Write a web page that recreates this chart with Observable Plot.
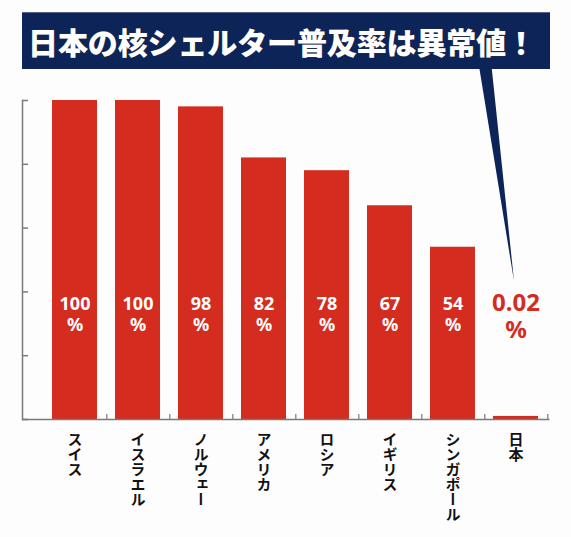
<!DOCTYPE html>
<html>
<head>
<meta charset="utf-8">
<script src="https://cdn.jsdelivr.net/npm/d3@7"></script>
<script src="https://cdn.jsdelivr.net/npm/@observablehq/plot@0.6"></script>
<style>
  body { margin: 0; background: #fdfdfd; }
  text.vlabel { writing-mode: vertical-rl; }
</style>
</head>
<body>
<div id="chart"></div>
<script>
const titleText = "日本の核シェルター普及率は異常値！";
const countries = ["スイス", "イスラエル", "ノルウェー", "アメリカ", "ロシア", "イギリス", "シンガポール", "日本"];
const rates = [100, 100, 98, 82, 78, 67, 54, 0.02];
const rateLabels = ["100", "100", "98", "82", "78", "67", "54", "0.02"];
const yTicks = [0, 20, 40, 60, 80, 100];
const highlight = "日本";

const data = countries.map((c, i) => ({country: c, rate: rates[i], label: rateLabels[i]}));
const others = data.filter(d => d.country !== highlight);
const hl = data.filter(d => d.country === highlight);

const W = 571, H = 537;
const mTop = 100, mBottom = 118, mLeft = 22, mRight = 21.5;
const xRange = [40.5, 549.5];
const step = (xRange[1] - xRange[0]) / countries.length;
const frameW = W - mLeft - mRight;
const frameH = H - mTop - mBottom;

const red = "#d42c1f";
const navy = "#0c2458";
const axisGray = "#7a7a7a";

const svg = Plot.plot({
  width: W,
  height: H,
  marginTop: mTop,
  marginBottom: mBottom,
  marginLeft: mLeft,
  marginRight: mRight,
  style: {background: "#fdfdfd", fontFamily: "'Noto Sans CJK JP', 'Noto Sans', sans-serif"},
  x: {domain: countries, range: xRange, paddingInner: 0.29, paddingOuter: 0.145, axis: null},
  y: {domain: [0, 100], axis: null},
  marks: [
    Plot.barY(others, {x: "country", y: "rate", fill: red}),
    Plot.barY(hl, {x: "country", y: "rate", fill: red, insetTop: -3}),
    Plot.ruleY([0], {stroke: axisGray, strokeWidth: 1.5}),
    Plot.frame({anchor: "left", stroke: axisGray, strokeWidth: 1.5}),
    Plot.ruleY(yTicks, {stroke: axisGray, strokeWidth: 1.5, insetRight: frameW - 6}),
    Plot.ruleX(countries, {x: d => d, dx: step / 2, stroke: axisGray, strokeWidth: 1.2, insetTop: frameH - 5}),
    Plot.text(others, {
      x: "country", text: d => d.label + "\n%", frameAnchor: "bottom", lineAnchor: "middle", dy: -105.5,
      fill: "white", fontSize: 18, fontWeight: "bold", lineHeight: 1.12,
      fontFamily: "'Noto Sans', sans-serif"
    }),
    Plot.text(hl, {
      x: "country", text: d => d.label + "\n%", frameAnchor: "bottom", lineAnchor: "middle", dy: -103.5,
      fill: red, fontSize: 24, fontWeight: "bold", lineHeight: 1.1,
      fontFamily: "'Noto Sans', sans-serif"
    }),
    Plot.text(countries, {
      x: d => d, text: d => d, frameAnchor: "bottom", lineAnchor: "top", dy: 2,
      textAnchor: "start", fontSize: 15, fontWeight: "bold", fill: "#111"
    })
  ]
});

const s = d3.select(svg);
// vertical Japanese labels
s.selectAll("text").filter(function() { return countries.includes(this.textContent); }).each(function() {
  this.removeAttribute("dy");
  this.classList.add("vlabel");
  this.setAttribute("writing-mode", "vertical-rl");
  this.style.writingMode = "vertical-rl";
  this.setAttribute("text-anchor", "start");
});

// title callout box
const g = s.append("g").attr("aria-label", "title");
g.append("polygon")
  .attr("points", "479,66 491.5,66 514,281")
  .attr("fill", navy);
g.append("rect")
  .attr("x", 22).attr("y", 12.3).attr("width", 528).attr("height", 56.7)
  .attr("fill", navy);
g.append("text")
  .attr("x", 28).attr("y", 41)
  .attr("text-anchor", "start")
  .attr("dominant-baseline", "central")
  .attr("textLength", 508).attr("lengthAdjust", "spacing")
  .attr("font-size", 30).attr("font-weight", 900)
  .attr("fill", "white")
  .attr("stroke", "#3a3a3a").attr("stroke-width", 0.6).attr("paint-order", "stroke")
  .attr("font-family", "'Noto Sans CJK JP', sans-serif")
  .text(titleText);

document.getElementById("chart").appendChild(svg);
</script>
</body>
</html>
